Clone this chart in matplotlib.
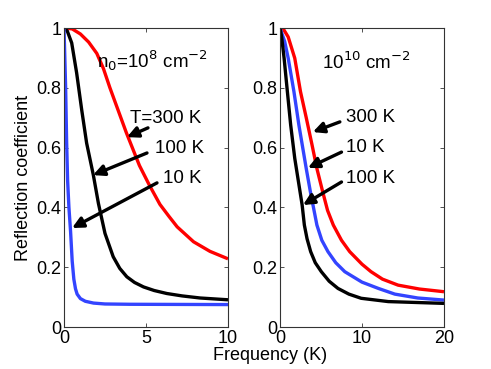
import matplotlib
matplotlib.use("Agg")
import matplotlib.pyplot as plt

plt.rcParams['font.family'] = ['Liberation Sans', 'DejaVu Sans']

# Left panel: n0 = 1e8 cm^-2, frequency 0..10 K
xl_red = [0, 0.5, 1.0, 1.5, 2.0, 2.4, 2.8, 3.3, 3.8, 4.2, 4.6, 5.2, 5.85, 6.4, 6.9, 7.9, 8.9, 10]
yl_red = [1.0, 0.997, 0.98, 0.953, 0.915, 0.865, 0.80, 0.725, 0.65, 0.595, 0.54, 0.475, 0.41, 0.37, 0.335, 0.285, 0.253, 0.228]
xl_black = [0, 0.2, 0.47, 0.77, 1.08, 1.38, 1.79, 2.1, 2.5, 3.0, 3.4, 3.83, 4.3, 4.85, 5.5, 6.27, 7.2, 8.3, 10]
yl_black = [1.0, 0.99, 0.95, 0.85, 0.726, 0.615, 0.508, 0.413, 0.313, 0.235, 0.196, 0.168, 0.149, 0.134, 0.122, 0.112, 0.104, 0.097, 0.091]
xl_blue = [0, 0.05, 0.1, 0.16, 0.22, 0.3, 0.4, 0.5, 0.6, 0.7, 0.8, 1.0, 1.3, 1.8, 2.5, 4, 10]
yl_blue = [1.0, 0.9, 0.8, 0.62, 0.49, 0.40, 0.32, 0.22, 0.16, 0.128, 0.11, 0.095, 0.086, 0.08, 0.077, 0.076, 0.075]

# Right panel: n0 = 1e10 cm^-2, frequency 0..20 K
xr_red = [0, 0.4, 1.0, 1.8, 2.5, 3.2, 3.9, 4.5, 5.2, 5.8, 6.5, 7.5, 8.5, 10, 11.1, 12.5, 14.4, 17, 20]
yr_red = [1.0, 0.997, 0.97, 0.899, 0.787, 0.70, 0.61, 0.53, 0.453, 0.39, 0.341, 0.29, 0.252, 0.21, 0.185, 0.16, 0.14, 0.127, 0.118]
xr_blue = [0, 0.57, 1.0, 1.7, 2.3, 3.2, 3.7, 4.5, 5.1, 5.85, 6.8, 7.9, 10, 12, 14, 16.8, 20]
yr_blue = [1.0, 0.955, 0.899, 0.787, 0.676, 0.53, 0.453, 0.341, 0.29, 0.252, 0.215, 0.185, 0.15, 0.129, 0.11, 0.097, 0.09]
xr_black = [0, 0.2, 0.5, 0.9, 1.3, 1.8, 2.7, 2.97, 3.3, 3.74, 4.3, 5.04, 6.0, 7.07, 8.4, 9.9, 13.2, 20]
yr_black = [1.0, 0.97, 0.899, 0.787, 0.676, 0.564, 0.408, 0.341, 0.295, 0.252, 0.215, 0.185, 0.153, 0.129, 0.11, 0.096, 0.085, 0.079]

xticks_l = [0, 5, 10]
xticks_r = [0, 10, 20]
yticks = [0, 0.2, 0.4, 0.6, 0.8, 1]
ytick_labels = ['0', '0.2', '0.4', '0.6', '0.8', '1']

RED = '#ff0000'
BLUE = '#3344ff'
BLACK = '#000000'

fig = plt.figure(figsize=(4.91, 3.69), dpi=100)
W, H = 491, 369
axL = fig.add_axes([64 / W, 1 - 327 / H, 164 / W, 299 / H])
axR = fig.add_axes([280 / W, 1 - 327 / H, 164 / W, 299 / H])

lw = 2.4
kw = dict(lw=lw, solid_capstyle='butt', solid_joinstyle='round')
axL.plot(xl_red, yl_red, color=RED, **kw)
axL.plot(xl_black, yl_black, color=BLACK, **kw)
axL.plot(xl_blue, yl_blue, color=BLUE, **kw)

axR.plot(xr_red, yr_red, color=RED, **kw)
axR.plot(xr_blue, yr_blue, color=BLUE, **kw)
axR.plot(xr_black, yr_black, color=BLACK, **kw)

fs = 13
for ax, xt, xmax in [(axL, xticks_l, 10), (axR, xticks_r, 20)]:
    ax.set_xlim(0, xmax)
    ax.set_ylim(0, 1)
    ax.set_xticks(xt)
    ax.set_xticklabels([str(v) for v in xt])
    ax.set_yticks(yticks)
    ax.set_yticklabels(ytick_labels)
    ax.tick_params(direction='in', top=True, right=True, length=3, width=0.6,
                   labelsize=fs, pad=2, color='#333333')
    for s in ax.spines.values():
        s.set_color('#333333')
        s.set_linewidth(0.8)

axL.set_ylabel('Reflection coefficient', fontsize=fs, labelpad=3)
fig.text(270 / W, 1 - 356 / H, 'Frequency (K)', fontsize=fs, ha='center', va='center')

tfs = 13.5
axL.text(2.0, 0.89, r'n$_0$=10$^8$ cm$^{-2}$', fontsize=tfs, va='center', ha='left')
axR.text(5.1, 0.885, r'10$^{10}$ cm$^{-2}$', fontsize=tfs, va='center', ha='left')

arrow_kw = dict(arrowstyle='-|>,head_length=0.65,head_width=0.32', color='black', lw=2.4,
                shrinkA=0, shrinkB=0)

axL.text(4.02, 0.697, 'T=300 K', fontsize=tfs, va='center', ha='left')
axL.annotate('', xy=(3.84, 0.635), xytext=(5.12, 0.666), arrowprops=arrow_kw)
axL.text(5.55, 0.597, '100 K', fontsize=tfs, va='center', ha='left')
axL.annotate('', xy=(1.77, 0.508), xytext=(5.06, 0.582), arrowprops=arrow_kw)
axL.text(6.04, 0.498, '10 K', fontsize=tfs, va='center', ha='left')
axL.annotate('', xy=(0.49, 0.331), xytext=(5.67, 0.482), arrowprops=arrow_kw)

axR.text(8.05, 0.699, '300 K', fontsize=tfs, va='center', ha='left')
axR.annotate('', xy=(4.0, 0.652), xytext=(7.3, 0.686), arrowprops=arrow_kw)
axR.text(8.05, 0.599, '10 K', fontsize=tfs, va='center', ha='left')
axR.annotate('', xy=(3.4, 0.532), xytext=(7.5, 0.585), arrowprops=arrow_kw)
axR.text(8.05, 0.498, '100 K', fontsize=tfs, va='center', ha='left')
axR.annotate('', xy=(2.8, 0.408), xytext=(7.5, 0.485), arrowprops=arrow_kw)

fig.savefig('out.png', dpi=100)
